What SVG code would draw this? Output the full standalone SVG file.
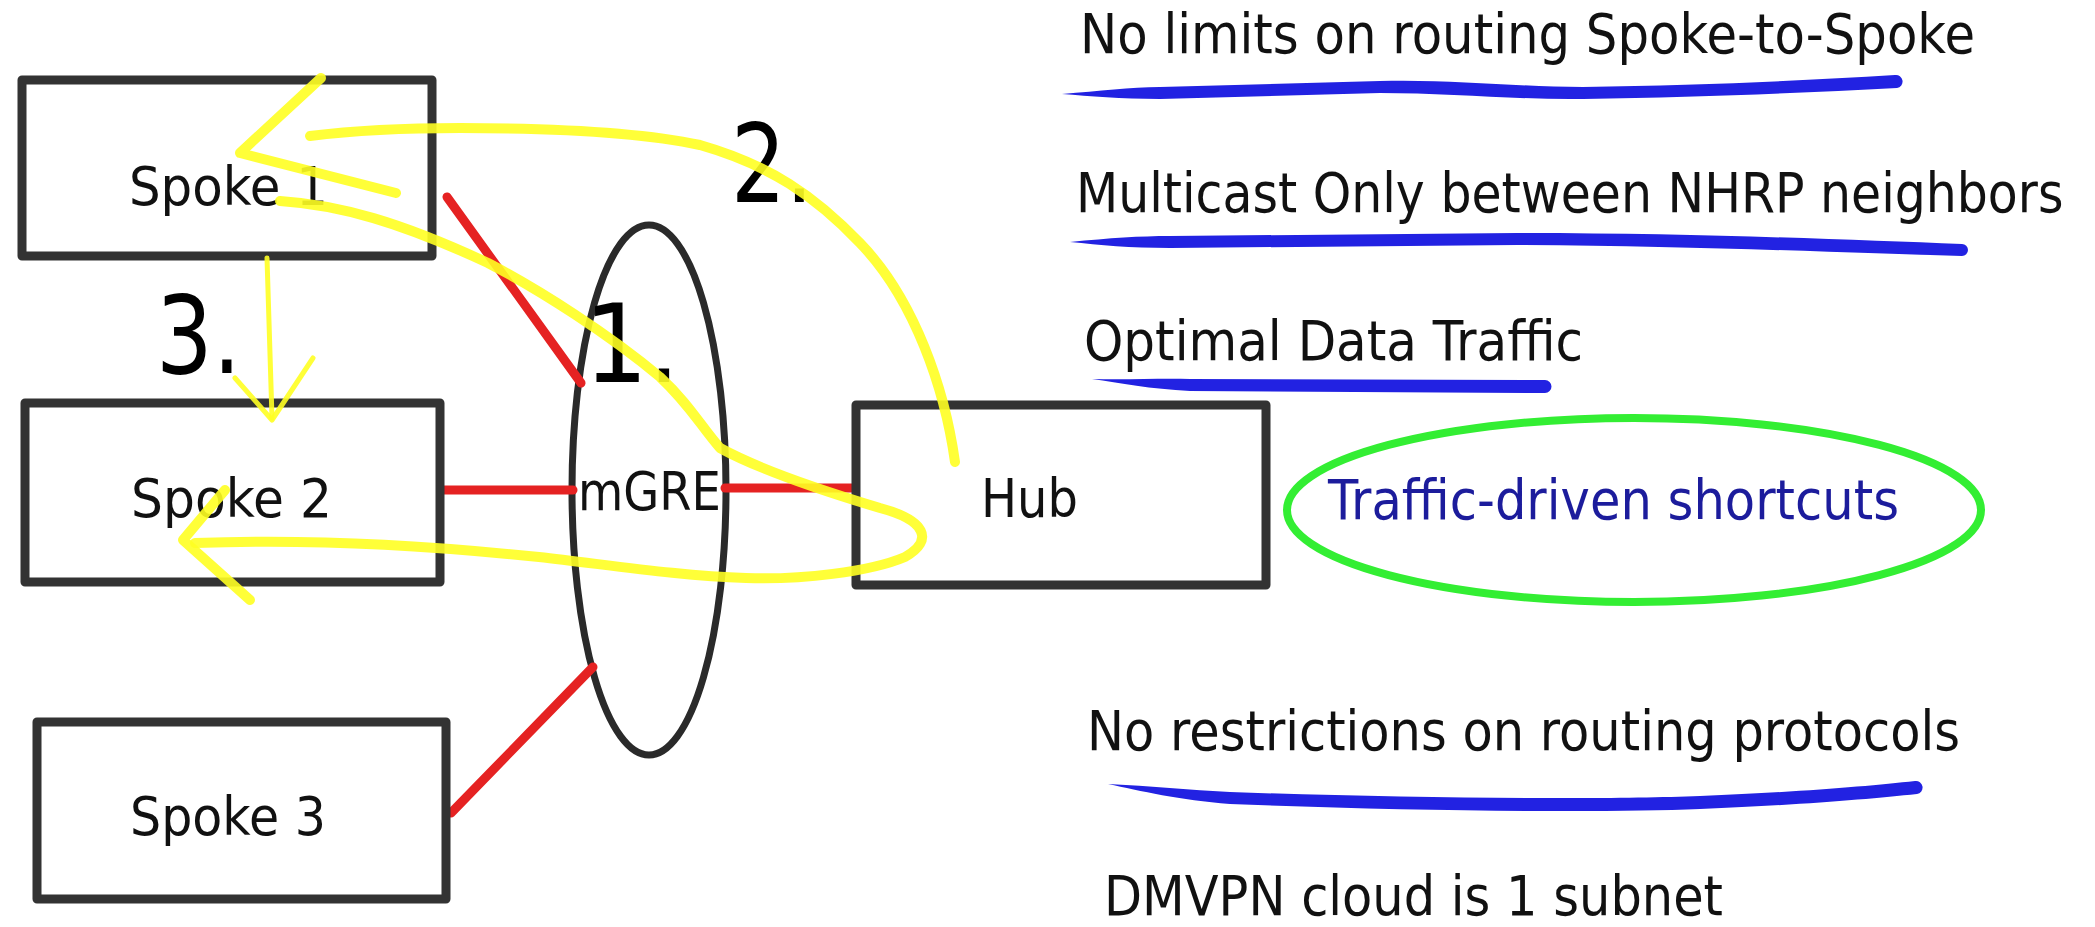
<svg xmlns="http://www.w3.org/2000/svg" width="2095" height="927" viewBox="0 0 2095 927">
  <style>
    .box { fill: #ffffff; stroke: #333333; stroke-width: 9; stroke-linejoin: round; }
    .lbl { font-family: "DejaVu Sans", Verdana, sans-serif; font-size: 53px; fill: #111111; }
    .note { font-family: "DejaVu Sans", Verdana, sans-serif; font-size: 55px; fill: #111111; }
    .num { font-family: "DejaVu Sans", Verdana, sans-serif; font-size: 108px; fill: #000000; }
    .link { fill: none; stroke: #e52222; stroke-width: 9; stroke-linecap: round; }
    .ink { fill: none; stroke: #ffff22; stroke-width: 10; stroke-linecap: round; stroke-linejoin: round; opacity: 0.9; }
    .ink-thin { fill: none; stroke: #ffff22; stroke-width: 5; stroke-linecap: round; stroke-linejoin: round; opacity: 0.9; }
    .under { fill: #2222e2; }
  </style>
  <rect width="2095" height="927" fill="#ffffff"/>

  <!-- tunnel cloud -->
  <g id="mgre">
    <ellipse cx="649" cy="490" rx="77" ry="265" fill="none" stroke="#2a2a2a" stroke-width="7"/>
  </g>

  <!-- red tunnel links -->
  <g id="connectors">
    <path class="link" d="M447,197 L581,383"/>
    <path class="link" d="M444,490 L573,490"/>
    <path class="link" d="M725,488 L853,488"/>
    <path class="link" d="M451,813 L593,667"/>
  </g>

  <g id="spoke1">
    <rect class="box" x="22" y="80" width="410" height="176"/>
    <text class="lbl" x="129" y="205" textLength="199" lengthAdjust="spacingAndGlyphs">Spoke 1</text>
  </g>
  <g id="spoke2">
    <rect class="box" x="25" y="403" width="415" height="179"/>
    <text class="lbl" x="131" y="517" textLength="201" lengthAdjust="spacingAndGlyphs">Spoke 2</text>
  </g>
  <g id="spoke3">
    <rect class="box" x="37" y="722" width="409" height="177"/>
    <text class="lbl" x="130" y="835" textLength="196" lengthAdjust="spacingAndGlyphs">Spoke 3</text>
  </g>
  <g id="hub">
    <rect class="box" x="856" y="405" width="410" height="180"/>
    <text class="lbl" x="981" y="517" textLength="97" lengthAdjust="spacingAndGlyphs">Hub</text>
  </g>
  <g id="mgre-label">
    <text class="lbl" x="578" y="510" font-size="51" textLength="143" lengthAdjust="spacingAndGlyphs">mGRE</text>
  </g>

  <!-- step numbers -->
  <g id="steps">
    <text class="num" x="731" y="202" textLength="82" lengthAdjust="spacingAndGlyphs">2.</text>
    <text class="num" x="156" y="373" textLength="85" lengthAdjust="spacingAndGlyphs">3.</text>
    <text class="num" x="584" y="382" textLength="96" lengthAdjust="spacingAndGlyphs">1.</text>
  </g>

  <!-- hand-drawn traffic arrows -->
  <g id="flows">
    <path class="ink" d="M955,462 C945,390 915,300 860,243 C815,196 770,165 700,145 C640,132 560,128 460,128 C400,128 350,131 310,136"/>
    <path class="ink" d="M321,78 L240,153 L396,193"/>
    <path class="ink" d="M280,201 C340,205 400,222 488,263 C540,290 610,335 660,377 C690,405 700,425 720,448 C760,470 820,490 880,508 C925,520 935,540 905,557 C870,572 800,580 746,578 C680,576 610,565 539,557 C450,548 330,538 195,543"/>
    <path class="ink" d="M225,490 L183,540 L250,600"/>
    <path class="ink-thin" d="M267,258 L272,418"/>
    <path class="ink-thin" d="M235,378 L272,420 L313,358"/>
  </g>

  <!-- feature notes -->
  <g id="notes">
    <text class="note" x="1080" y="53" textLength="895" lengthAdjust="spacingAndGlyphs">No limits on routing Spoke-to-Spoke</text>
    <path class="under" d="M1062,94 C1100,91 1130,87 1160,87 L1380,81 C1450,79 1520,87 1583,87 C1700,85 1800,81 1895,75 A6.5,6.5 0 0 1 1897,88 C1800,93 1700,97 1583,99 C1520,100 1450,93 1380,93 L1160,99 C1120,99 1090,96 1062,94 Z"/>

    <!-- long line: condensed horizontally so it stays inside the canvas -->
    <text class="note" transform="translate(1076,212) scale(0.89,1)" x="0" y="0">Multicast Only between NHRP neighbors</text>
    <path class="under" d="M1070,242 C1110,238 1140,236 1170,236 L1517,233 C1700,233 1850,240 1962,244 A6,6 0 0 1 1962,256 C1850,253 1700,246 1517,245 L1170,248 C1130,248 1100,245 1070,242 Z"/>

    <text class="note" x="1084" y="360" textLength="499" lengthAdjust="spacingAndGlyphs">Optimal Data Traffic</text>
    <path class="under" d="M1092,379 C1130,380 1160,378 1190,379 L1545,380 A6.5,6.5 0 0 1 1545,393 L1190,391 C1150,389 1120,383 1092,379 Z"/>

    <ellipse cx="1634" cy="510" rx="347" ry="92" fill="none" stroke="#33ee33" stroke-width="8"/>
    <text class="note" x="1328" y="519" font-size="49" style="fill:#1c1c9c" textLength="571" lengthAdjust="spacingAndGlyphs">Traffic-driven shortcuts</text>

    <text class="note" x="1087" y="750" textLength="873" lengthAdjust="spacingAndGlyphs">No restrictions on routing protocols</text>
    <path class="under" d="M1108,784 C1150,786 1190,790 1230,792 C1400,798 1600,800 1700,796 C1800,792 1870,786 1915,781 A6.5,6.5 0 0 1 1917,794 C1870,799 1800,805 1700,809 C1600,813 1400,811 1230,804 C1180,800 1140,791 1108,784 Z"/>

    <text class="note" x="1104" y="915" textLength="619" lengthAdjust="spacingAndGlyphs">DMVPN cloud is 1 subnet</text>
  </g>
</svg>
